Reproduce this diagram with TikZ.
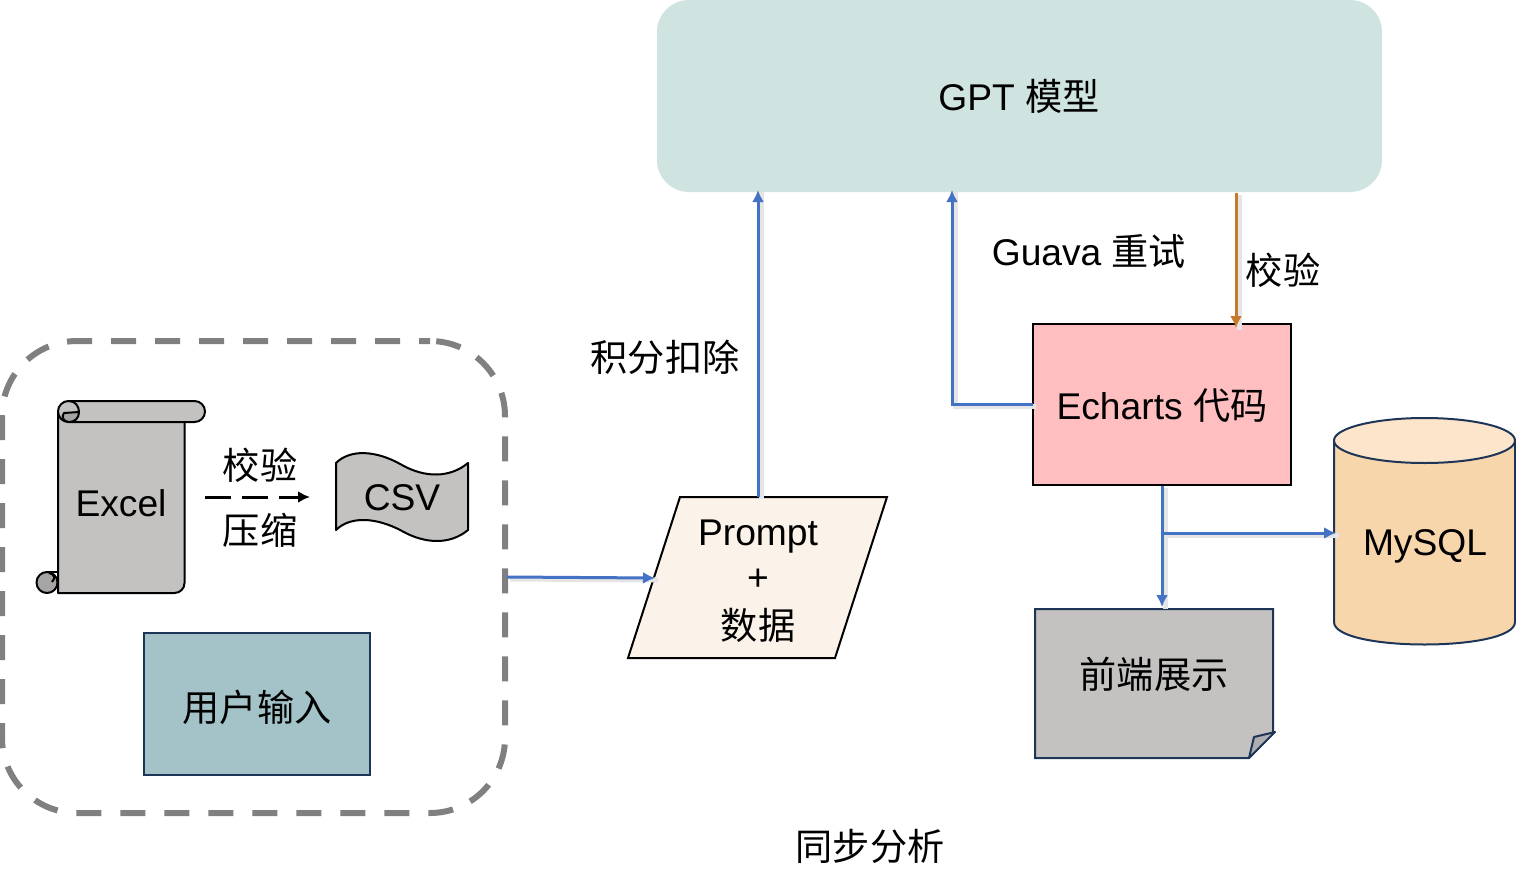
\documentclass[tikz,border=0pt]{standalone}
\usepackage{fontspec}
\setmainfont{Liberation Sans}
\newfontfamily\cjk{Noto Sans CJK SC}
\usetikzlibrary{arrows.meta, calc}
\definecolor{linkblue}{HTML}{4472C4}
\definecolor{linkorange}{HTML}{C67A2B}
\definecolor{navy}{HTML}{1F3557}
\definecolor{scrollgray}{HTML}{C3C2C1}
\definecolor{curlgray}{HTML}{A6A5A4}
\definecolor{gptfill}{HTML}{CFE3E1}
\definecolor{echfill}{HTML}{FFBFC1}
\definecolor{userfill}{HTML}{A3C3C8}
\definecolor{promptfill}{HTML}{FBF2E9}
\definecolor{sqlfill}{HTML}{F8D6AC}
\definecolor{sqltop}{HTML}{FDE5CB}
\definecolor{flapfill}{HTML}{AEAEB0}
\tikzset{
  txt/.style={font=\fontsize{37.2}{40}\selectfont, inner sep=0pt},
  box/.style={rectangle, outer sep=0pt, inner sep=0pt},
  link/.style={linkblue, line width=3pt, -{Latex[length=12pt,width=12pt]}, preaction={draw=black!10, line width=5pt, -, transform canvas={shift={(3pt,-2pt)}}}},
  outline/.style={draw=black, line width=2pt, line join=round}
}
\begin{document}
\begin{tikzpicture}[x=1pt, y=-1pt]
\useasboundingbox (0,0) rectangle (1516,889);
% main boxes
\node[box, fill=gptfill, rounded corners=32pt, minimum width=725pt, minimum height=192pt] (gpt) at (1019.5,96) {};
\node[txt] (gptlabel) at (1019,96) {GPT {\cjk 模型}};
\node[box, draw=gray, line width=6pt, dash pattern=on 25pt off 19pt, dash phase=14pt, rounded corners=75pt, minimum width=503pt, minimum height=472pt] (input) at (253.5,577) {};
\node[box, draw=black, line width=2pt, fill=echfill, minimum width=258pt, minimum height=161pt] (echarts) at (1162,404.5) {};
\node[txt] (echlabel) at (1162,406) {Echarts {\cjk 代码}};
\node[box, draw=navy, line width=2pt, fill=userfill, minimum width=226pt, minimum height=142pt] (user) at (257,704) {};
\node[txt] (userlabel) at (257,707) {\cjk 用户输入};
% excel scroll
\draw[outline, fill=scrollgray] (58,412) -- (58,593) [rounded corners=10pt] -- (184.5,593) -- (184.5,412) [sharp corners] -- cycle;
\draw[outline, fill=scrollgray, rounded corners=10.5pt] (58,401) rectangle (205,422);
\draw[outline, fill=curlgray] (79,412) .. controls (79,418) and (75,422) .. (69,422) .. controls (63,422) and (61,416) .. (64,413) -- cycle;
\draw[outline] (69,401) .. controls (75,401) and (79,406) .. (79,412);
\draw[outline, fill=curlgray] (47,582.5) circle[radius=10.5];
\draw[outline] (47,572) -- (58,572);
\draw[outline] (49,573) .. controls (54,574) and (56,578) .. (52,582);
\draw[outline] (58,572) -- (58,593);
\node[txt] (excel) at (121,503) {Excel};
% csv wave
\draw[outline, fill=scrollgray] (336,463) .. controls (350,449) and (376,450) .. (402,465) .. controls (425,478) and (450,478) .. (468,463) -- (468,530) .. controls (450,545) and (425,544) .. (402,531) .. controls (376,517) and (350,516) .. (336,530) -- cycle;
\node[txt] (csv) at (402,498) {CSV};
\coordinate (zipstart) at (205,497);
\coordinate (zipend) at (310,497);
\draw[black, line width=3pt, dash pattern=on 26pt off 11pt, -{Latex[length=12pt,width=12pt]}] (zipstart) -- (zipend);
\node[txt] (check) at (260,465.5) {\cjk 校验};
\node[txt] (zip) at (260,530) {\cjk 压缩};
% prompt
\coordinate (pa) at (680,497);
\coordinate (pb) at (887,497);
\coordinate (pc) at (835,658);
\coordinate (pd) at (628,658);
\draw[draw=black, line width=2pt, fill=promptfill, line join=miter] (pa) -- (pb) -- (pc) -- (pd) -- cycle;
\node[txt] (prompt) at (758,537) {Prompt};
\node[txt] (plus) at (758,580) {+};
\node[txt] (data) at (758,625) {\cjk 数据};
% mysql
\draw[draw=navy, line width=2pt, fill=sqlfill] (1334,441) -- (1334,622) .. controls (1334,652) and (1515,652) .. (1515,622) -- (1515,441) -- cycle;
\draw[draw=navy, line width=2pt, fill=sqltop] (1424.5,440.5) ellipse[x radius=90.5, y radius=22.5];
\node[txt] (mysql) at (1425,546) {MySQL};
% front end page
\draw[draw=navy, line width=2pt, fill=scrollgray] (1035,609) -- (1273,609) -- (1273,733) -- (1249,758) -- (1035,758) -- cycle;
\draw[draw=navy, line width=2pt, fill=flapfill, line join=round] (1249,758) -- (1254,737) -- (1275,732) -- cycle;
\node[txt] (front) at (1154,674) {\cjk 前端展示};
% other labels
\node[txt] (guava) at (1089,251) {Guava {\cjk 重试}};
\node[txt] (verify) at (1283,270) {\cjk 校验};
\node[txt] (points) at (665,357) {\cjk 积分扣除};
\node[txt] (title) at (870,846) {\cjk 同步分析};
% links
\coordinate (gptleft) at (758,190);
\coordinate (gptmid) at (952,190);
\coordinate (gptright) at (1236,193);
\coordinate (echtop) at (1236,328);
\coordinate (echbottom) at (1162,486);
\coordinate (fronttop) at (1162,607);
\coordinate (branch) at (1162,533);
\coordinate (sqlside) at (1336,533);
\coordinate (promptbottom) at (758,497);
\coordinate (inputright) at (507,577);
\coordinate (promptleft) at (655,578);
\draw[link] (inputright) -- (promptleft);
\draw[link] (promptbottom) -- (gptleft);
\draw[link] (echarts.west) -| (gptmid);
\draw[link, linkorange] (gptright) -- (echtop);
\draw[link] (echbottom) -- (fronttop);
\draw[link] (branch) -- (sqlside);
\end{tikzpicture}
\end{document}
